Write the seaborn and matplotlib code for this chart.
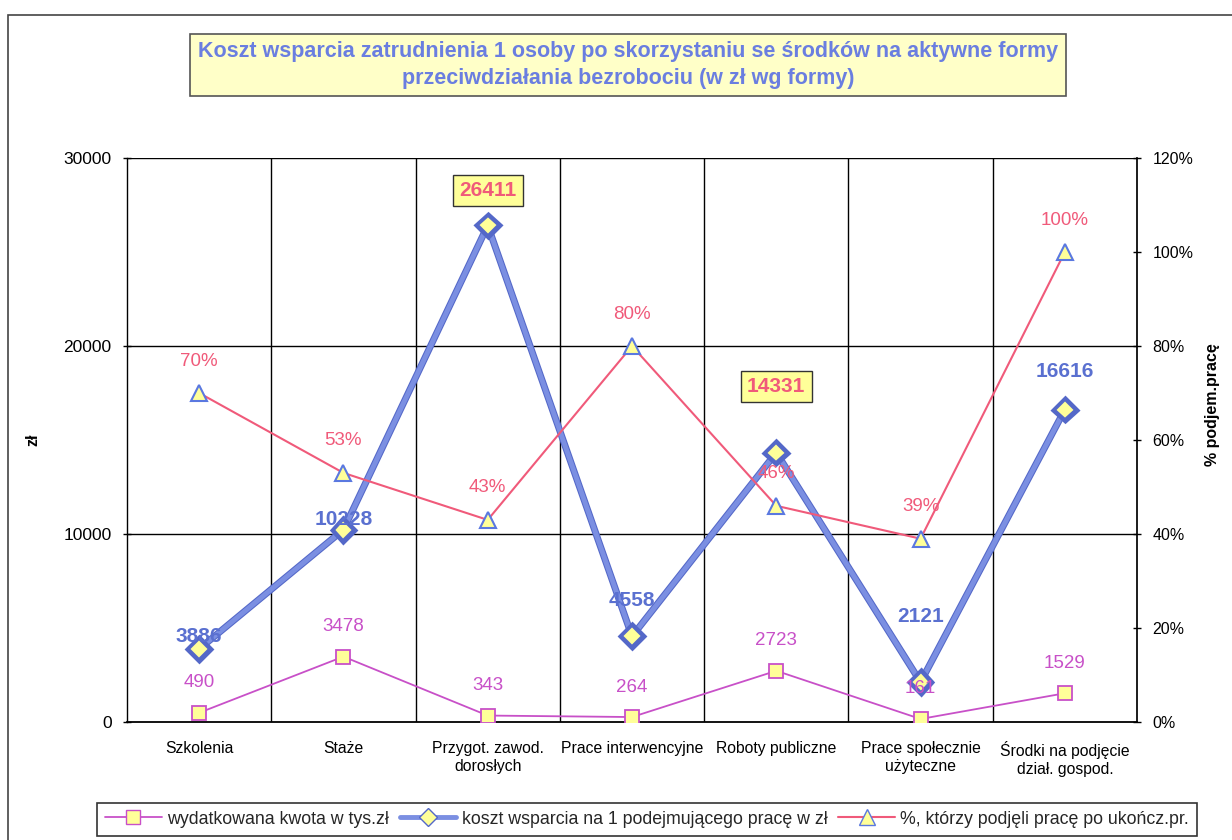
import matplotlib
matplotlib.use("Agg")
import matplotlib.pyplot as plt
import matplotlib.patheffects as pe
from matplotlib.lines import Line2D
from matplotlib.patches import Rectangle
import seaborn as sns
import numpy as np

sns.set_theme(style="white")
plt.rcParams['font.family'] = ['Liberation Sans', 'DejaVu Sans']

categories = ["Szkolenia", "Staże", "Przygot. zawod.\ndorosłych", "Prace interwencyjne",
              "Roboty publiczne", "Prace społecznie\nużyteczne", "Środki na podjęcie\ndział. gospod."]
kwota = [490, 3478, 343, 264, 2723, 161, 1529]
koszt = [3886, 10228, 26411, 4558, 14331, 2121, 16616]
procent = [70, 53, 43, 80, 46, 39, 100]
left_ticks = [0, 10000, 20000, 30000]
right_ticks = [0, 20, 40, 60, 80, 100, 120]

# label offsets (pixels above point) and boxed flags for koszt labels
koszt_off = [12, 10, 35, 36, 66, 66, 38]
koszt_boxed = [False, False, True, False, True, False, False]

W, H = 1232, 840
fig = plt.figure(figsize=(W / 100, H / 100), dpi=100)
fig.patch.set_facecolor("white")
ax = fig.add_axes([127 / W, 1 - 722 / H, (1137 - 127) / W, (722 - 158) / H])
ax2 = ax.twinx()

x = np.arange(len(categories))

C_MAG = "#c850c8"
C_BLUE = "#7b8fe2"
C_BLUE_D = "#5468c8"
C_RED = "#f05a7a"
C_YEL = "#ffff99"

sns.lineplot(x=x, y=kwota, ax=ax, color=C_MAG, lw=1.3, marker="s", markersize=10,
             markerfacecolor=C_YEL, markeredgecolor=C_MAG, markeredgewidth=1.3, zorder=4)
sns.lineplot(x=x, y=koszt, ax=ax, color=C_BLUE, lw=3.5, marker="D", markersize=10,
             markerfacecolor=C_YEL, markeredgecolor=C_BLUE_D, markeredgewidth=1.5, zorder=5,
             path_effects=[pe.Stroke(linewidth=5, foreground=C_BLUE_D), pe.Normal()])
sns.lineplot(x=x, y=procent, ax=ax2, color=C_RED, lw=1.5, marker="^", markersize=11,
             markerfacecolor=C_YEL, markeredgecolor="#5a78e0", markeredgewidth=1.5, zorder=5)

ax.set_xlim(-0.5, len(categories) - 0.5)
ax.set_ylim(0, 30000)
ax2.set_ylim(0, 120)

ax.set_yticks(left_ticks)
ax.set_yticklabels([str(v) for v in left_ticks], fontsize=12.5, color="black")
ax2.set_yticks(right_ticks)
ax2.set_yticklabels([f"{v}%" for v in right_ticks], fontsize=11.5, color="black")
ax.set_xticks(x)
ax.set_xticklabels(categories, fontsize=11.3, color="black")
ax.tick_params(axis="x", length=0, pad=14)
ax.set_xticks(np.arange(0.5, len(categories) - 0.5, 1.0), minor=True)
ax.tick_params(axis="x", which="minor", length=5, direction="inout", color="black")
ax.tick_params(axis="y", length=6, direction="inout", color="black", width=1, pad=8, left=True)
ax2.tick_params(axis="y", length=6, direction="inout", color="black", width=1, pad=8, right=True)

for yv in left_ticks[1:]:
    ax.axhline(yv, color="black", lw=1, zorder=1)
for xv in np.arange(0.5, len(categories) - 0.5, 1.0):
    ax.axvline(xv, color="black", lw=1, zorder=1)

for a in (ax, ax2):
    a.spines["top"].set_visible(False)
    a.spines["left"].set_color("black")
    a.spines["bottom"].set_color("black")
    a.spines["right"].set_color("black")
    a.spines["left"].set_linewidth(1)
    a.spines["bottom"].set_linewidth(1.3)
ax2.spines["left"].set_visible(False)
ax2.spines["bottom"].set_visible(False)
ax.spines["right"].set_visible(False)

ax.set_ylabel("zł", fontsize=11.5, fontweight="bold", color="black")
ax.yaxis.set_label_coords((40 - 127) / 1010, 0.5)
ax2.set_ylabel("% podjem.pracę", fontsize=11.5, fontweight="bold", color="black", rotation=90)
ax2.yaxis.set_label_coords((1205 - 127) / 1010, 0.562)

# data labels
for xi, v in zip(x, kwota):
    ax.annotate(str(v), (xi, v), xytext=(0, 30), textcoords="offset pixels",
                ha="center", va="center", fontsize=13.5, color=C_MAG, zorder=6)
for xi, v, off, boxed in zip(x, koszt, koszt_off, koszt_boxed):
    if boxed:
        ax.annotate(str(v), (xi, v), xytext=(0, off), textcoords="offset pixels",
                    ha="center", va="center", fontsize=15, fontweight="bold", color=C_RED,
                    bbox=dict(boxstyle="square,pad=0.3", fc=C_YEL, ec="#333333", lw=1), zorder=7)
    else:
        ax.annotate(str(v), (xi, v), xytext=(0, off), textcoords="offset pixels",
                    ha="center", va="center", fontsize=15, fontweight="bold", color="#5a70d0", zorder=6)
for xi, v in zip(x, procent):
    ax2.annotate(f"{v}%", (xi, v), xytext=(0, 32), textcoords="offset pixels",
                 ha="center", va="center", fontsize=13.5, color=C_RED, zorder=6)

# title
fig.text(628 / W, 1 - 65 / H,
         "Koszt wsparcia zatrudnienia 1 osoby po skorzystaniu se środków na aktywne formy\n"
         "przeciwdziałania bezrobociu (w zł wg formy)",
         ha="center", va="center", fontsize=15.5, fontweight="bold", color="#6a7ee0",
         linespacing=1.35,
         bbox=dict(boxstyle="square,pad=0.35", fc="#ffffc8", ec="#555555", lw=1.2))

# outer frame
fig.add_artist(Rectangle((8 / W, -0.02), 1.0, 1 - 15 / H + 0.02, transform=fig.transFigure,
                         fill=False, ec="#444444", lw=1.2))

# legend
handles = [
    Line2D([], [], color=C_MAG, lw=1.3, marker="s", markersize=10, markerfacecolor=C_YEL,
           markeredgecolor=C_MAG),
    Line2D([], [], color=C_BLUE, lw=3.5, marker="D", markersize=9, markerfacecolor=C_YEL,
           markeredgecolor=C_BLUE_D),
    Line2D([], [], color=C_RED, lw=1.5, marker="^", markersize=11, markerfacecolor=C_YEL,
           markeredgecolor="#5a78e0"),
]
labels = ["wydatkowana kwota w tys.zł", "koszt wsparcia na 1 podejmującego pracę w zł",
          "%, którzy podjęli pracę po ukończ.pr."]
leg = fig.legend(handles, labels, loc="center", bbox_to_anchor=(647 / W, 1 - 819 / H), ncol=3,
                 fontsize=12.8, frameon=True, fancybox=False, edgecolor="black",
                 handlelength=3.2, columnspacing=0.6, handletextpad=0.3, borderpad=0.45)
leg.get_frame().set_linewidth(1.2)

fig.savefig("out.png", dpi=100, facecolor="white")
